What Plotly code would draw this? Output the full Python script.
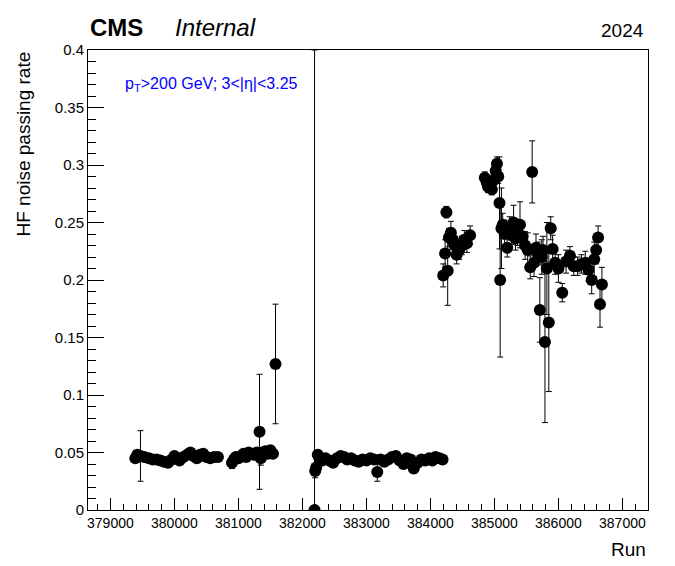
import plotly.graph_objects as go

runs = [
    379390, 379420, 379470, 379530, 379600, 379660, 379720, 379780, 379840, 379900,
    379960, 380000, 380040, 380080, 380140, 380200, 380250, 380300, 380350, 380400,
    380450, 380500, 380560, 380620, 380680,
    380900, 380930, 380960, 381000, 381040, 381080, 381120, 381160, 381200, 381240,
    381290, 381330, 381350, 381380, 381420, 381460, 381500, 381540, 381580,
    382190, 382200, 382215, 382240, 382270, 382310, 382360, 382420, 382480, 382540,
    382600, 382650, 382700, 382760, 382820, 382880, 382940, 383000, 383060, 383120,
    383170, 383220, 383280, 383340, 383400, 383460, 383520, 383580, 383630, 383690,
    383740, 383800, 383860, 383920, 383980, 384030, 384080, 384140, 384190,
    384200, 384230, 384250, 384270, 384290, 384320, 384350, 384380, 384410, 384450,
    384490, 384530, 384570, 384620,
    384850, 384880, 384900, 384930, 384960, 384990, 385020, 385040, 385060, 385080,
    385090, 385110, 385130,
    385160, 385200, 385240, 385270, 385300, 385330, 385360, 385400, 385440, 385480,
    385520, 385560, 385590, 385620, 385650, 385680, 385710, 385740, 385760, 385790,
    385820, 385850, 385880, 385910, 385950, 386000, 386060, 386120, 386180, 386240,
    386300, 386360, 386420, 386470, 386520, 386560, 386590, 386620, 386650, 386680,
]
rate = [
    0.045, 0.048, 0.047, 0.046, 0.045, 0.044, 0.044, 0.043, 0.042, 0.041,
    0.044, 0.047, 0.045, 0.043, 0.046, 0.048, 0.050, 0.047, 0.045, 0.048,
    0.049, 0.046, 0.045, 0.046, 0.046,
    0.041, 0.044, 0.046, 0.045, 0.047, 0.049, 0.046, 0.050, 0.049, 0.048,
    0.050, 0.068, 0.045, 0.050, 0.051, 0.049, 0.052, 0.049, 0.127,
    0.000, 0.034, 0.037, 0.048, 0.044, 0.043, 0.045, 0.043, 0.041, 0.045,
    0.047, 0.046, 0.044, 0.045, 0.043, 0.042, 0.044, 0.043, 0.045, 0.044,
    0.033, 0.044, 0.042, 0.044, 0.046, 0.047, 0.043, 0.040, 0.045, 0.044,
    0.036, 0.041, 0.044, 0.043, 0.045, 0.043, 0.046, 0.045, 0.044,
    0.204, 0.223, 0.259, 0.208, 0.237, 0.241, 0.235, 0.230, 0.222, 0.226,
    0.230, 0.235, 0.232, 0.239,
    0.289, 0.285, 0.281, 0.283, 0.279, 0.287, 0.295, 0.301, 0.290, 0.267,
    0.200, 0.245, 0.248,
    0.240, 0.228, 0.245, 0.239, 0.250, 0.236, 0.240, 0.248, 0.238, 0.230,
    0.226, 0.211, 0.294, 0.215, 0.228, 0.223, 0.174, 0.220, 0.226, 0.146,
    0.210, 0.163, 0.245, 0.227, 0.215, 0.210, 0.189, 0.216, 0.221, 0.212,
    0.212, 0.214, 0.215, 0.209, 0.200, 0.218, 0.226, 0.237, 0.179, 0.196,
]
err = [
    0.003, 0.003, 0.022, 0.003, 0.003, 0.003, 0.003, 0.003, 0.003, 0.003,
    0.003, 0.003, 0.003, 0.003, 0.003, 0.003, 0.003, 0.003, 0.003, 0.003,
    0.003, 0.003, 0.003, 0.003, 0.003,
    0.005, 0.004, 0.003, 0.003, 0.003, 0.003, 0.003, 0.003, 0.003, 0.003,
    0.003, 0.050, 0.006, 0.003, 0.003, 0.003, 0.003, 0.003, 0.052,
    0.400, 0.006, 0.004, 0.003, 0.003, 0.003, 0.003, 0.003, 0.003, 0.003,
    0.003, 0.003, 0.003, 0.003, 0.003, 0.003, 0.003, 0.003, 0.003, 0.003,
    0.008, 0.003, 0.003, 0.003, 0.003, 0.003, 0.003, 0.004, 0.003, 0.003,
    0.004, 0.003, 0.003, 0.003, 0.003, 0.003, 0.003, 0.003, 0.003,
    0.010, 0.012, 0.005, 0.030, 0.008, 0.010, 0.008, 0.008, 0.008, 0.008,
    0.008, 0.008, 0.008, 0.008,
    0.005, 0.005, 0.005, 0.005, 0.005, 0.005, 0.006, 0.006, 0.006, 0.040,
    0.067, 0.035, 0.010,
    0.012, 0.008, 0.010, 0.008, 0.015, 0.010, 0.010, 0.020, 0.010, 0.012,
    0.015, 0.010, 0.027, 0.012, 0.012, 0.010, 0.028, 0.015, 0.012, 0.070,
    0.040, 0.060, 0.010, 0.012, 0.010, 0.012, 0.008, 0.010, 0.008, 0.008,
    0.008, 0.008, 0.010, 0.010, 0.012, 0.015, 0.012, 0.010, 0.020, 0.015,
]

x_ticks = [379000, 380000, 381000, 382000, 383000, 384000, 385000, 386000, 387000]
y_ticks = [0, 0.05, 0.1, 0.15, 0.2, 0.25, 0.3, 0.35, 0.4]

font = "Liberation Sans"

fig = go.Figure()
fig.add_trace(
    go.Scatter(
        x=runs,
        y=rate,
        mode="markers",
        marker=dict(color="black", size=12, symbol="circle"),
        error_y=dict(type="data", array=err, color="black", thickness=1, width=3),
        showlegend=False,
    )
)

fig.update_layout(
    width=675,
    height=566,
    paper_bgcolor="white",
    plot_bgcolor="white",
    margin=dict(l=80, r=35, t=42, b=64),
    font=dict(family=font, size=15, color="black"),
    xaxis=dict(
        range=[378650, 387400],
        tickvals=x_ticks,
        ticktext=[str(v) for v in x_ticks],
        ticks="inside",
        ticklen=12,
        tickcolor="black",
        minor=dict(dtick=200, tick0=379000, ticks="inside", ticklen=6, tickcolor="black"),
        showline=True,
        linecolor="black",
        mirror=True,
        showgrid=False,
        zeroline=False,
        tickfont=dict(size=14),
    ),
    yaxis=dict(
        range=[0, 0.4],
        tickvals=y_ticks,
        ticktext=["0", "0.05", "0.1", "0.15", "0.2", "0.25", "0.3", "0.35", "0.4"],
        ticks="inside",
        ticklen=16,
        tickcolor="black",
        minor=dict(dtick=0.01, ticks="inside", ticklen=8, tickcolor="black"),
        showline=True,
        linecolor="black",
        mirror=True,
        showgrid=False,
        zeroline=False,
        tickfont=dict(size=15),
    ),
    annotations=[
        dict(text="Run", xref="paper", yref="paper", x=1, y=-0.058, xanchor="right",
             yanchor="top", showarrow=False, font=dict(size=19)),
        dict(text="HF noise passing rate", xref="paper", yref="paper", x=-0.116, y=1,
             xanchor="center", yanchor="top", textangle=-90, showarrow=False,
             font=dict(size=19)),
        dict(text="<b>CMS</b>", xref="paper", yref="paper", x=0.0, y=1.015, xanchor="left",
             yanchor="bottom", showarrow=False, font=dict(size=24)),
        dict(text="<i>Internal</i>", xref="paper", yref="paper", x=0.152, y=1.015,
             xanchor="left", yanchor="bottom", showarrow=False, font=dict(size=24)),
        dict(text="2024", xref="paper", yref="paper", x=0.997, y=1.015, xanchor="right",
             yanchor="bottom", showarrow=False, font=dict(size=19)),
        dict(text="p<sub>T</sub>>200 GeV; 3<|η|<3.25", xref="paper", yref="paper",
             x=0.062, y=0.924, xanchor="left", yanchor="middle", showarrow=False,
             font=dict(size=16, color="blue")),
    ],
)

fig.write_html("out.html")
